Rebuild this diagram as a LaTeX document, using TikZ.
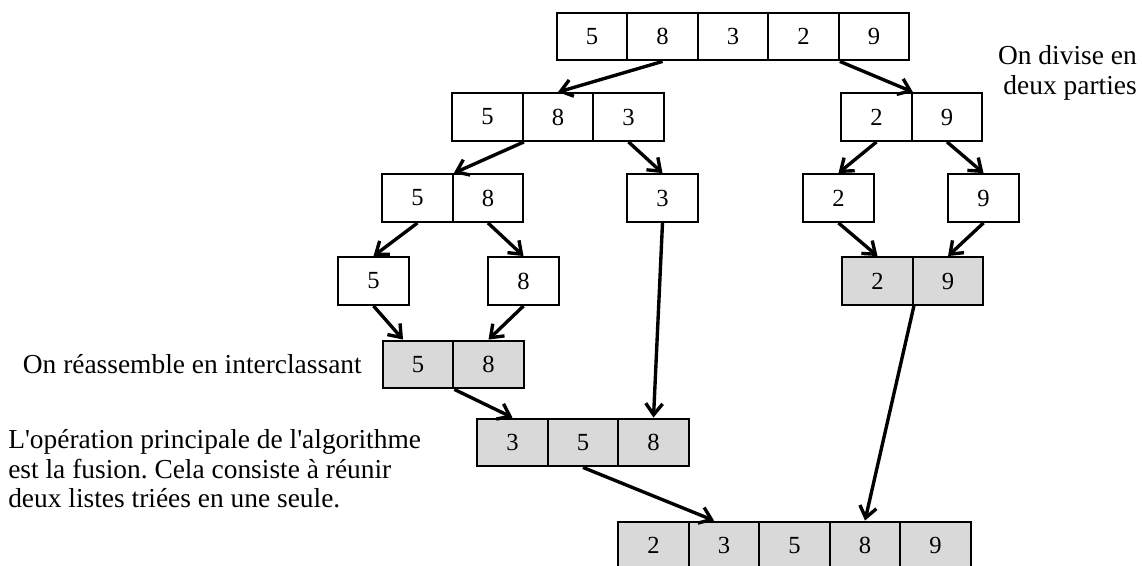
\documentclass[tikz,border=0pt]{standalone}
\usepackage{fontspec}
\setmainfont{Liberation Serif}
\usetikzlibrary{arrows.meta,calc}

\tikzset{
	cellule/.style = {draw, line width=1.6pt, minimum width=1.7625cm, minimum height=1.19cm,
		inner sep=0pt, font=\fontsize{17.5}{20}\selectfont},
	trie/.style = {cellule, fill=gray!30},
	fleche/.style = {line width=2.4pt, -{Straight Barb[length=8pt,width=12pt]}},
	texte/.style = {inner sep=0pt, font=\fontsize{19.5}{21}\selectfont\frenchspacing}
}

% une liste de cases : style, nom, x, y, valeurs
\newcommand{\liste}[5]{%
	\foreach \v [count=\i] in {#5}{
		\node[#1] (#2\i) at ({#3+(\i-1)*70.5},#4) {\v};
	}
}

\begin{document}
\begin{tikzpicture}[x=0.025cm, y=-0.025cm]

	\useasboundingbox (0,0) rectangle (1142,565);

	% on divise
	\liste{cellule}{a}{592}{36.5}{5,8,3,2,9}
	\liste{cellule}{b}{487.5}{117}{5,8,3}
	\liste{cellule}{c}{876.5}{117}{2,9}
	\liste{cellule}{d}{417.5}{198}{5,8}
	\liste{cellule}{e}{662.5}{198}{3}
	\liste{cellule}{f}{838.5}{198}{2}
	\liste{cellule}{g}{983.5}{198}{9}
	\liste{cellule}{h}{373.5}{281}{5}
	\liste{cellule}{k}{523.5}{281}{8}

	% on fusionne
	\liste{trie}{m}{877.5}{281}{2,9}
	\liste{trie}{n}{418}{364.5}{5,8}
	\liste{trie}{p}{512.5}{442.5}{3,5,8}
	\liste{trie}{q}{653.5}{545.5}{2,3,5,8,9}

	\draw[fleche] (a2.south) -- (b2.north);
	\draw[fleche] (a4.south east) -- (c1.north east);
	\draw[fleche] (b1.south east) -- (d1.north east);
	\draw[fleche] (b3.south) -- (e1.north);
	\draw[fleche] (c1.south) -- (f1.north);
	\draw[fleche] (c2.south) -- (g1.north);
	\draw[fleche] (d1.south) -- (h1.north);
	\draw[fleche] (d2.south) -- (k1.north);
	\draw[fleche] (f1.south) -- (m1.north);
	\draw[fleche] (g1.south) -- (m2.north);
	\draw[fleche] (h1.south) -- ($(n1.north)+(-15,0)$);
	\draw[fleche] (k1.south) -- (n2.north);
	\draw[fleche] (n1.south east) -- (p1.north);
	\draw[fleche] (e1.south) -- (p3.north);
	\draw[fleche] (p2.south) -- ($(q2.north)+(-10,0)$);
	\draw[fleche] (m1.south east) -- (q4.north);

	\node[texte, anchor=east, align=right] (divise) at (1137,73) {On divise en\\deux parties};
	\node[texte, anchor=east] (reassemble) at (362,364) {On réassemble en interclassant};
	\node[texte, anchor=west, align=left] (fusion) at (8,469)
		{L\textquotesingle opération principale de l\textquotesingle algorithme\\
		 est la fusion. Cela consiste à réunir\\deux listes triées en une seule.};

\end{tikzpicture}
\end{document}
